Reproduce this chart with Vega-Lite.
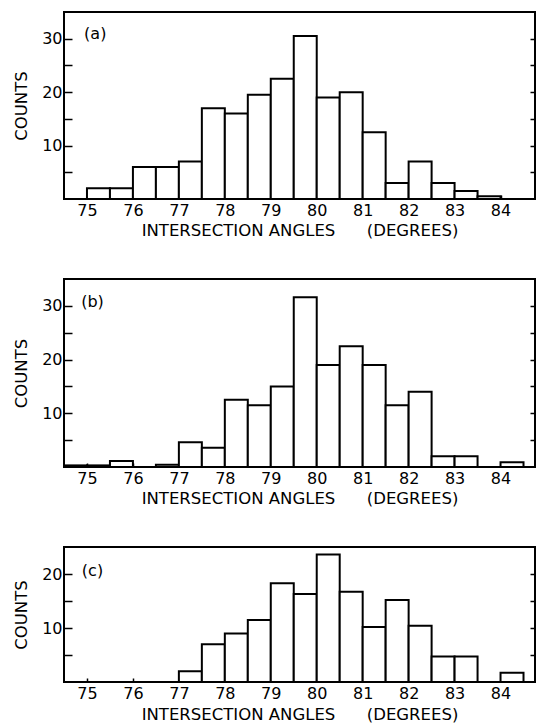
{
  "$schema": "https://vega.github.io/schema/vega-lite/v6.json",
  "padding": {"top": 11, "left": 12, "right": 0, "bottom": 0},
  "spacing": 38,
  "datasets": {
    "a": [
      {"lo": 75.0, "hi": 75.5, "count": 2},
      {"lo": 75.5, "hi": 76.0, "count": 2},
      {"lo": 76.0, "hi": 76.5, "count": 6},
      {"lo": 76.5, "hi": 77.0, "count": 6},
      {"lo": 77.0, "hi": 77.5, "count": 7},
      {"lo": 77.5, "hi": 78.0, "count": 17},
      {"lo": 78.0, "hi": 78.5, "count": 16},
      {"lo": 78.5, "hi": 79.0, "count": 19.5},
      {"lo": 79.0, "hi": 79.5, "count": 22.5},
      {"lo": 79.5, "hi": 80.0, "count": 30.5},
      {"lo": 80.0, "hi": 80.5, "count": 19},
      {"lo": 80.5, "hi": 81.0, "count": 20},
      {"lo": 81.0, "hi": 81.5, "count": 12.5},
      {"lo": 81.5, "hi": 82.0, "count": 3},
      {"lo": 82.0, "hi": 82.5, "count": 7},
      {"lo": 82.5, "hi": 83.0, "count": 3},
      {"lo": 83.0, "hi": 83.5, "count": 1.5},
      {"lo": 83.5, "hi": 84.0, "count": 0.5}
    ],
    "b": [
      {"lo": 74.5, "hi": 75.0, "count": 0.3},
      {"lo": 75.0, "hi": 75.5, "count": 0.3},
      {"lo": 75.5, "hi": 76.0, "count": 1.1},
      {"lo": 76.5, "hi": 77.0, "count": 0.4},
      {"lo": 77.0, "hi": 77.5, "count": 4.6},
      {"lo": 77.5, "hi": 78.0, "count": 3.6},
      {"lo": 78.0, "hi": 78.5, "count": 12.5},
      {"lo": 78.5, "hi": 79.0, "count": 11.5},
      {"lo": 79.0, "hi": 79.5, "count": 15},
      {"lo": 79.5, "hi": 80.0, "count": 31.6},
      {"lo": 80.0, "hi": 80.5, "count": 19},
      {"lo": 80.5, "hi": 81.0, "count": 22.5},
      {"lo": 81.0, "hi": 81.5, "count": 19},
      {"lo": 81.5, "hi": 82.0, "count": 11.5},
      {"lo": 82.0, "hi": 82.5, "count": 14},
      {"lo": 82.5, "hi": 83.0, "count": 2},
      {"lo": 83.0, "hi": 83.5, "count": 2},
      {"lo": 84.0, "hi": 84.5, "count": 0.9}
    ],
    "c": [
      {"lo": 77.0, "hi": 77.5, "count": 2},
      {"lo": 77.5, "hi": 78.0, "count": 7},
      {"lo": 78.0, "hi": 78.5, "count": 9},
      {"lo": 78.5, "hi": 79.0, "count": 11.5},
      {"lo": 79.0, "hi": 79.5, "count": 18.3},
      {"lo": 79.5, "hi": 80.0, "count": 16.3},
      {"lo": 80.0, "hi": 80.5, "count": 23.6},
      {"lo": 80.5, "hi": 81.0, "count": 16.7},
      {"lo": 81.0, "hi": 81.5, "count": 10.2},
      {"lo": 81.5, "hi": 82.0, "count": 15.2},
      {"lo": 82.0, "hi": 82.5, "count": 10.4},
      {"lo": 82.5, "hi": 83.0, "count": 4.7},
      {"lo": 83.0, "hi": 83.5, "count": 4.7},
      {"lo": 84.0, "hi": 84.5, "count": 1.7}
    ]
  },
  "vconcat": [
    {
      "width": 471, "height": 187,
      "resolve": {"axis": {"y": "independent"}},
      "layer": [
        {
          "data": {"name": "a"},
          "mark": {"type": "rect", "fill": "white", "stroke": "black", "strokeWidth": 2},
          "encoding": {
            "x": {"field": "lo", "type": "quantitative", "scale": {"domain": [74.5, 84.75], "nice": false, "zero": false},
                  "axis": {"title": "INTERSECTION ANGLES\u00a0\u00a0\u00a0\u00a0\u00a0\u00a0(DEGREES)", "values": [75,75.5,76,76.5,77,77.5,78,78.5,79,79.5,80,80.5,81,81.5,82,82.5,83,83.5,84,84.5],
                           "labelExpr": "datum.value % 1 === 0 ? datum.label : ''", "tickSize": -4, "labelPadding": 7, "titlePadding": 4}},
            "x2": {"field": "hi"},
            "y": {"field": "count", "type": "quantitative", "scale": {"domain": [0, 35], "nice": false},
                  "axis": {"title": "COUNTS", "orient": "left", "values": [5,10,15,20,25,30], "labelExpr": "datum.value % 10 === 0 ? datum.label : ''", "tickSize": -8, "labelPadding": 10, "titlePadding": 12}},
            "y2": {"datum": 0}
          }
        },
        {
          "data": {"values": [{"label": "(a)"}]},
          "mark": {"type": "text", "font": "DejaVu Sans", "fontSize": 16, "color": "black"},
          "encoding": {
            "x": {"datum": 75.18, "type": "quantitative"},
            "y": {"datum": 30.9, "type": "quantitative", "axis": {"orient": "right", "title": null, "labels": false, "values": [5,10,15,20,25,30], "tickSize": -5}},
            "text": {"field": "label"}
          }
        }
      ]
    },
    {
      "width": 471, "height": 188,
      "resolve": {"axis": {"y": "independent"}},
      "layer": [
        {
          "data": {"name": "b"},
          "mark": {"type": "rect", "fill": "white", "stroke": "black", "strokeWidth": 2},
          "encoding": {
            "x": {"field": "lo", "type": "quantitative", "scale": {"domain": [74.5, 84.75], "nice": false, "zero": false},
                  "axis": {"title": "INTERSECTION ANGLES\u00a0\u00a0\u00a0\u00a0\u00a0\u00a0(DEGREES)", "values": [75,75.5,76,76.5,77,77.5,78,78.5,79,79.5,80,80.5,81,81.5,82,82.5,83,83.5,84,84.5],
                           "labelExpr": "datum.value % 1 === 0 ? datum.label : ''", "tickSize": -4, "labelPadding": 7, "titlePadding": 4}},
            "x2": {"field": "hi"},
            "y": {"field": "count", "type": "quantitative", "scale": {"domain": [0, 35], "nice": false},
                  "axis": {"title": "COUNTS", "orient": "left", "values": [5,10,15,20,25,30], "labelExpr": "datum.value % 10 === 0 ? datum.label : ''", "tickSize": -8, "labelPadding": 10, "titlePadding": 12}},
            "y2": {"datum": 0}
          }
        },
        {
          "data": {"values": [{"label": "(b)"}]},
          "mark": {"type": "text", "font": "DejaVu Sans", "fontSize": 16, "color": "black"},
          "encoding": {
            "x": {"datum": 75.12, "type": "quantitative"},
            "y": {"datum": 30.8, "type": "quantitative", "axis": {"orient": "right", "title": null, "labels": false, "values": [5,10,15,20,25,30], "tickSize": -5}},
            "text": {"field": "label"}
          }
        }
      ]
    },
    {
      "width": 471, "height": 135,
      "resolve": {"axis": {"y": "independent"}},
      "layer": [
        {
          "data": {"name": "c"},
          "mark": {"type": "rect", "fill": "white", "stroke": "black", "strokeWidth": 2},
          "encoding": {
            "x": {"field": "lo", "type": "quantitative", "scale": {"domain": [74.5, 84.75], "nice": false, "zero": false},
                  "axis": {"title": "INTERSECTION ANGLES\u00a0\u00a0\u00a0\u00a0\u00a0\u00a0(DEGREES)", "values": [75,75.5,76,76.5,77,77.5,78,78.5,79,79.5,80,80.5,81,81.5,82,82.5,83,83.5,84,84.5],
                           "labelExpr": "datum.value % 1 === 0 ? datum.label : ''", "tickSize": -4, "labelPadding": 7, "titlePadding": 5}},
            "x2": {"field": "hi"},
            "y": {"field": "count", "type": "quantitative", "scale": {"domain": [0, 25], "nice": false},
                  "axis": {"title": "COUNTS", "orient": "left", "values": [5,10,15,20], "labelExpr": "datum.value % 10 === 0 ? datum.label : ''", "tickSize": -8, "labelPadding": 10, "titlePadding": 12}},
            "y2": {"datum": 0}
          }
        },
        {
          "data": {"values": [{"label": "(c)"}]},
          "mark": {"type": "text", "font": "DejaVu Sans", "fontSize": 16, "color": "black"},
          "encoding": {
            "x": {"datum": 75.12, "type": "quantitative"},
            "y": {"datum": 20.6, "type": "quantitative", "axis": {"orient": "right", "title": null, "labels": false, "values": [5,10,15,20], "tickSize": -5}},
            "text": {"field": "label"}
          }
        }
      ]
    }
  ],
  "config": {
    "background": "white",
    "view": {"stroke": "black", "strokeWidth": 2},
    "axis": {"domain": false, "grid": false, "tickColor": "black", "tickWidth": 1.5, "labelColor": "black", "titleColor": "black",
             "labelFont": "DejaVu Sans", "titleFont": "DejaVu Sans", "labelFontSize": 16, "titleFontSize": 16.5, "titleFontWeight": "normal"}
  }
}
